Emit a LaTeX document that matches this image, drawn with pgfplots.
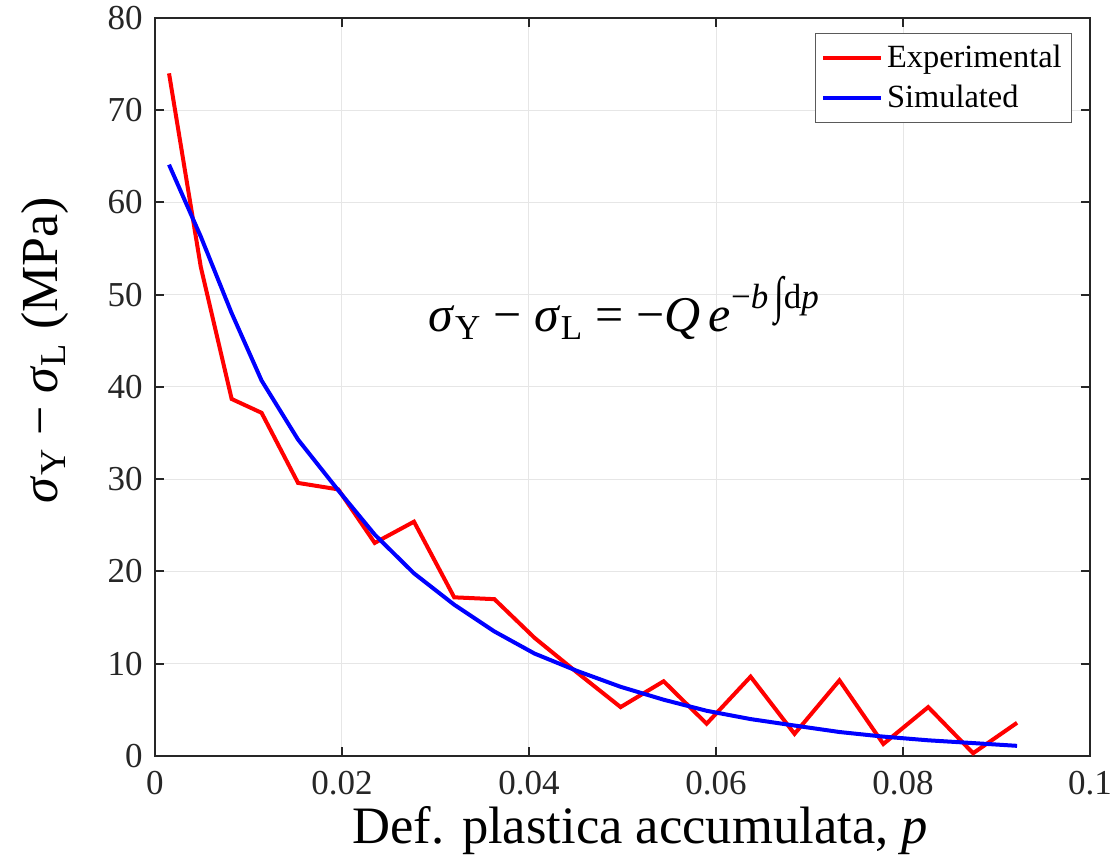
\documentclass[border=0pt]{standalone}
\usepackage{fontspec}
\setmainfont{Liberation Serif}[
  ItalicFont={Liberation Serif Italic},
  BoldFont={Liberation Serif Bold}]
\usepackage{pgfplots}
\pgfplotsset{compat=1.18}

\definecolor{axgray}{RGB}{38,38,38}
\definecolor{gridgray}{RGB}{230,230,230}
\definecolor{legframe}{RGB}{90,90,90}

% Experimental and fitted isotropic hardening data
\pgfplotstableread{
p        exp
0.0015   74.0
0.0049   53.0
0.0082   38.7
0.0114   37.2
0.0153   29.6
0.0196   28.9
0.0235   23.1
0.0277   25.4
0.0320   17.2
0.0363   17.0
0.0406   12.8
0.0452    9.0
0.0498    5.3
0.0544    8.1
0.0590    3.5
0.0637    8.6
0.0684    2.4
0.0732    8.2
0.0779    1.3
0.0827    5.3
0.0875    0.3
0.0922    3.6
}\expdata

\pgfplotstableread{
p        sim
0.0015   64.1
0.0049   56.3
0.0082   48.0
0.0114   40.7
0.0153   34.3
0.0196   28.8
0.0235   24.0
0.0277   19.8
0.0320   16.4
0.0363   13.5
0.0406   11.1
0.0452    9.2
0.0498    7.5
0.0544    6.1
0.0590    4.9
0.0637    4.0
0.0684    3.3
0.0732    2.6
0.0779    2.1
0.0827    1.7
0.0875    1.4
0.0922    1.1
}\simdata

\begin{document}
\begin{tikzpicture}
\begin{axis}[
  scale only axis,
  width=467.5pt, height=369pt,
  xmin=0, xmax=0.1, ymin=0, ymax=80,
  xtick={0,0.02,0.04,0.06,0.08,0.1},
  xticklabels={0,0.02,0.04,0.06,0.08,0.1},
  ytick={0,10,20,30,40,50,60,70,80},
  scaled x ticks=false,
  /pgf/number format/assume math mode=true,
  tick align=inside,
  major tick length=4.5pt,
  axis line style={axgray, line width=1pt},
  every tick/.style={axgray, line width=1pt},
  xmajorgrids, ymajorgrids,
  major grid style={gridgray, line width=0.5pt},
  tick label style={font=\fontsize{17.5}{20}\selectfont, text=axgray},
  xticklabel style={yshift=-4.2pt},
  yticklabel style={xshift=-2.7pt},
  xlabel={Def. plastica accumulata, \textit{p}},
  xlabel style={font=\fontsize{26.3}{30}\selectfont, text=black,
    at={(axis description cs:0.519,-0.1179)}, anchor=base},
  ylabel={\textit{σ}\textsubscript{Y} − \textit{σ}\textsubscript{L} (MPa)},
  ylabel style={font=\fontsize{26}{30}\selectfont, text=black,
    at={(axis description cs:-0.1176,0.55)}, anchor=center, rotate=0},
  legend style={at={(axis description cs:0.981,0.980)}, anchor=north east,
    draw=legframe, line width=0.6pt, fill=white,
    font=\fontsize{16.2}{19}\selectfont,
    inner xsep=3pt, inner ysep=4pt, row sep=3pt},
  legend cell align=left,
  legend image code/.code={\draw[#1, line width=2pt] (0pt,0pt) -- (29pt,0pt);},
]
\addplot[red, line width=2pt] table[x=p, y=exp] {\expdata};
\addlegendentry{Experimental}
\addplot[blue, line width=2pt] table[x=p, y=sim] {\simdata};
\addlegendentry{Simulated}

\node[anchor=base, font=\fontsize{25}{30}\selectfont] at (axis cs:0.0502,46.0)
  {\textit{σ}\textsubscript{Y} − \textit{σ}\textsubscript{L} = −\textit{Q}\,\textit{e}\textsuperscript{−\textit{b}\,\raisebox{-0.25ex}{\scalebox{1}[1.45]{∫}}d\textit{p}}};
\end{axis}
\pgfresetboundingbox
\path ([shift={(-77.5pt,-52.5pt)}]current axis.south west)
  rectangle ([shift={(10pt,9pt)}]current axis.north east);
\end{tikzpicture}
\end{document}
